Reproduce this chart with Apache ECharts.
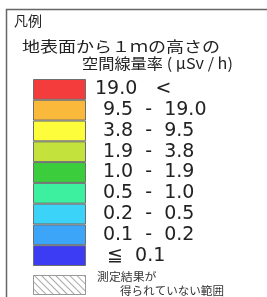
<!DOCTYPE html>
<html>
<head>
<meta charset="UTF-8">
<style>
  html, body { margin: 0; padding: 0; background: #fff; }
  #legend { width: 267px; height: 297px; }
</style>
</head>
<body>
<div id="legend"></div>
<script src="https://cdn.jsdelivr.net/npm/echarts@6/dist/echarts.min.js"></script>
<script>
// legend classes, top to bottom
var rangeLabels = ['19.0   <', ' \u200a9.5  -  19.0', ' \u200a3.8  -  9.5', ' \u200a1.9  -  3.8', ' \u200a1.0  -  1.9',
                   ' \u200a0.5  -  1.0', ' \u200a0.2  -  0.5', ' \u200a0.1  -  0.2', '  \u2266  0.1'];
var rangeColors = ['#f53c3c', '#fbb93c', '#fdfd3c', '#c3e23c', '#3ccd3c',
                   '#3cf0a0', '#3cd3f8', '#3ca5f8', '#3c3cf5'];
var swatchValues = [1, 1, 1, 1, 1, 1, 1, 1, 1];
var noDataLabel = ['測定結果が', '得られていない範囲'];

var jp = '"Noto Sans CJK JP", sans-serif';

var chart = echarts.init(document.getElementById('legend'));

var option = {
  animation: false,
  grid: [
    { left: 33, top: 79, width: 53, height: 187 },
    { left: 33, top: 275, width: 53, height: 20 }
  ],
  xAxis: [
    { gridIndex: 0, type: 'value', min: 0, max: 1, show: false },
    { gridIndex: 1, type: 'value', min: 0, max: 1, show: false }
  ],
  yAxis: [
    { gridIndex: 0, type: 'category', inverse: true, show: false,
      data: rangeLabels },
    { gridIndex: 1, type: 'category', show: false, data: ['nodata'] }
  ],
  series: [
    {
      type: 'bar',
      xAxisIndex: 0, yAxisIndex: 0,
      barCategoryGap: 0,
      data: swatchValues.map(function (v, i) {
        return { value: v, itemStyle: { color: rangeColors[i] } };
      }),
      itemStyle: { borderColor: '#6e6e6e', borderWidth: 1 },
      label: {
        show: true,
        position: 'right',
        distance: 9,
        color: '#222',
        fontFamily: '"DejaVu Sans", sans-serif',
        fontSize: 19,
        formatter: function (p) { return rangeLabels[p.dataIndex]; }
      }
    },
    {
      type: 'bar',
      xAxisIndex: 1, yAxisIndex: 1,
      barCategoryGap: 0,
      data: [1],
      itemStyle: {
        color: '#fff',
        borderColor: '#999',
        borderWidth: 1,
        decal: {
          symbol: 'rect',
          symbolSize: 1,
          dashArrayX: [1, 0],
          dashArrayY: [1, 4],
          rotation: Math.PI / 4,
          color: '#aaa',
          backgroundColor: '#fff'
        }
      }
    }
  ],
  graphic: [
    { type: 'polyline', shape: { points: [[6.5, 297], [6.5, 9.5], [267, 9.5]] },
      style: { stroke: '#666', lineWidth: 1.5, fill: null } },
    { type: 'text', x: 14, y: 21, style: { text: '凡例', font: '14px ' + jp,
      fill: '#222', verticalAlign: 'middle' } },
    { type: 'text', x: 22, y: 46.5, scaleX: 1.2, style: { text: '地表面から１ｍの高さの',
      font: '15px ' + jp, fill: '#222', verticalAlign: 'middle' } },
    { type: 'text', x: 82, y: 63.5, scaleX: 1.08, style: { text: '空間線量率 ( μSv / h)',
      font: '15px ' + jp, fill: '#222', verticalAlign: 'middle' } },
    { type: 'text', x: 97, y: 277, scaleX: 1.08, style: { text: noDataLabel[0],
      font: '11px ' + jp, fill: '#333', verticalAlign: 'middle' } },
    { type: 'text', x: 120, y: 291, scaleX: 1.05, style: { text: noDataLabel[1],
      font: '11px ' + jp, fill: '#333', verticalAlign: 'middle' } }
  ]
};
chart.setOption(option);
</script>
</body>
</html>
